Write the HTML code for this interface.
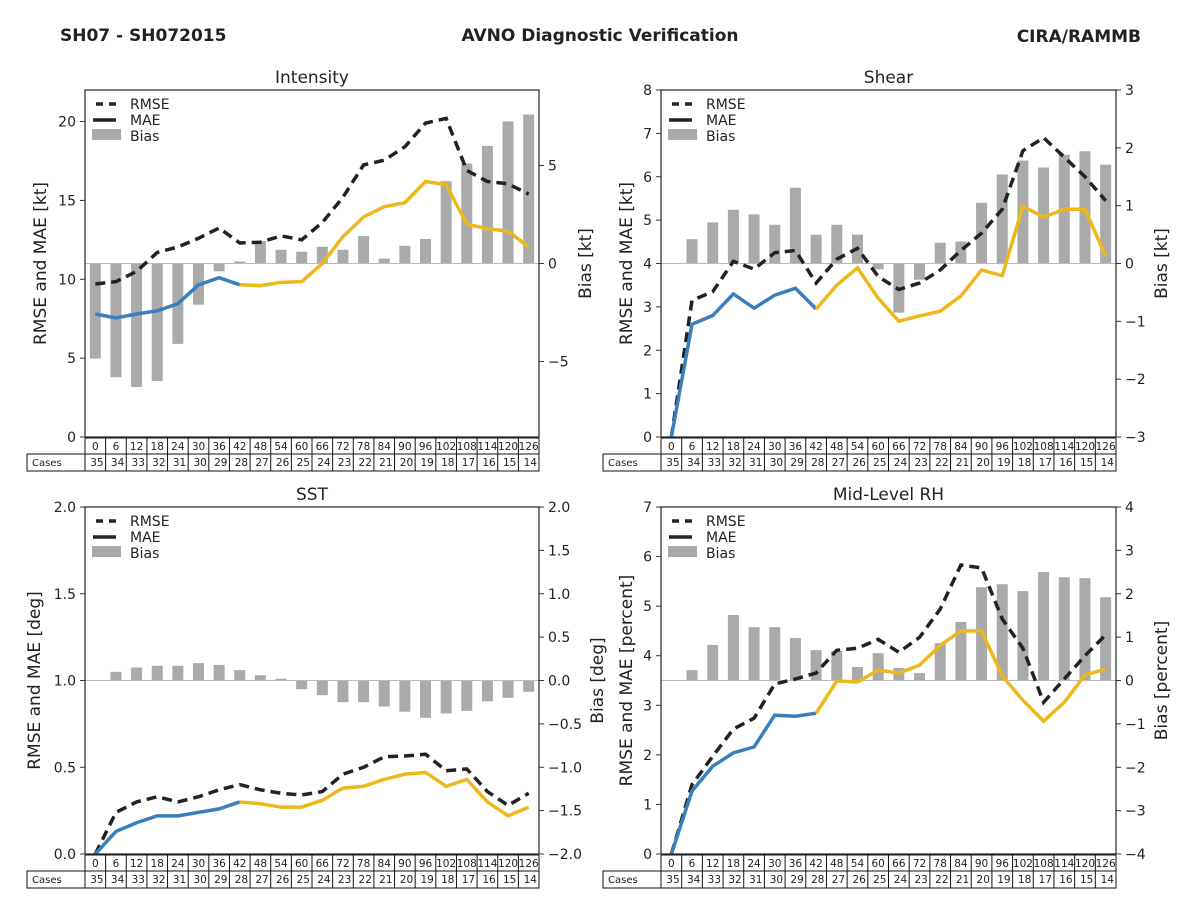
<!DOCTYPE html>
<html><head><meta charset="utf-8"><style>
body{margin:0;background:#fff}
svg{display:block;font-family:"DejaVu Sans","Liberation Sans",sans-serif}
</style></head><body>
<svg id="fig" width="1200" height="900" viewBox="0 0 1200 900" xmlns="http://www.w3.org/2000/svg">
<text x="60" y="41" font-size="17" font-weight="bold" fill="#222">SH07 - SH072015</text>
<text x="600" y="41" font-size="17" font-weight="bold" fill="#222" text-anchor="middle">AVNO Diagnostic Verification</text>
<text x="1141" y="42" font-size="17" font-weight="bold" fill="#222" text-anchor="end">CIRA/RAMMB</text>
</svg>
<script>
const hours=[0,6,12,18,24,30,36,42,48,54,60,66,72,78,84,90,96,102,108,114,120,126];
const cases=[35,34,33,32,31,30,29,28,27,26,25,24,23,22,21,20,19,18,17,16,15,14];
const intRmse=[9.7,9.85,10.5,11.7,12.05,12.6,13.25,12.3,12.35,12.75,12.5,13.6,15.2,17.25,17.55,18.4,19.9,20.2,16.9,16.2,16.05,15.4];
const intMae=[7.8,7.55,7.8,8.0,8.45,9.65,10.1,9.65,9.6,9.8,9.85,11.0,12.7,13.95,14.6,14.85,16.2,16.0,13.5,13.2,13.05,12.05];
const intBias=[-4.85,-5.8,-6.3,-6.0,-4.1,-2.1,-0.4,0.1,1.15,0.7,0.6,0.85,0.7,1.4,0.25,0.9,1.25,4.2,5.1,6.0,7.25,7.6];
const shrRmse=[0,3.15,3.35,4.05,3.87,4.25,4.3,3.55,4.1,4.35,3.7,3.4,3.55,3.85,4.3,4.7,5.25,6.6,6.9,6.45,6.0,5.45];
const shrMae=[0,2.6,2.8,3.3,2.97,3.27,3.43,2.95,3.5,3.9,3.2,2.67,2.79,2.9,3.25,3.85,3.72,5.32,5.07,5.25,5.25,4.17];
const shrBias=[0,0.42,0.71,0.93,0.85,0.67,1.31,0.5,0.67,0.5,-0.1,-0.85,-0.28,0.36,0.38,1.05,1.54,1.78,1.66,1.88,1.94,1.71];
const sstRmse=[0,0.24,0.3,0.33,0.3,0.33,0.37,0.4,0.37,0.35,0.34,0.36,0.46,0.5,0.56,0.565,0.575,0.48,0.49,0.36,0.28,0.35];
const sstMae=[0,0.13,0.18,0.22,0.22,0.24,0.26,0.3,0.29,0.27,0.27,0.31,0.38,0.39,0.43,0.46,0.47,0.39,0.43,0.3,0.22,0.27];
const sstBias=[0,0.1,0.15,0.17,0.17,0.2,0.18,0.12,0.06,0.02,-0.1,-0.17,-0.25,-0.25,-0.3,-0.36,-0.43,-0.38,-0.35,-0.24,-0.2,-0.13];
const rhRmse=[0,1.4,1.97,2.52,2.74,3.43,3.53,3.65,4.11,4.15,4.33,4.07,4.37,4.94,5.83,5.77,4.74,4.15,3.06,3.53,4.0,4.42];
const rhMae=[0,1.27,1.77,2.04,2.16,2.8,2.78,2.84,3.49,3.47,3.71,3.65,3.81,4.21,4.5,4.5,3.59,3.1,2.68,3.06,3.61,3.73];
const rhBias=[0,0.24,0.82,1.51,1.23,1.23,0.98,0.7,0.68,0.31,0.63,0.29,0.17,0.86,1.35,2.15,2.22,2.06,2.5,2.38,2.36,1.92];
const intLTicks=[0,5,10,15,20], intRTicks=[-5,0,5];
const shrLTicks=[0,1,2,3,4,5,6,7,8], shrRTicks=[-3,-2,-1,0,1,2,3];
const sstLTicks=[0,0.5,1,1.5,2], sstRTicks=[-2,-1.5,-1,-0.5,0,0.5,1,1.5,2];
const rhLTicks=[0,1,2,3,4,5,6,7], rhRTicks=[-4,-3,-2,-1,0,1,2,3,4];

const NS="http://www.w3.org/2000/svg";
const svg=document.getElementById('fig');
function mk(tag,attrs,parent,txt){const e=document.createElementNS(NS,tag);for(const k in attrs)e.setAttribute(k,attrs[k]);if(txt!==undefined)e.textContent=txt;(parent||svg).appendChild(e);return e;}

function panel(o){
  const g=mk('g',{});
  
  
  const L=o.x0,R=o.x1,T=o.y0,B=o.y1,W=R-L,n=hours.length,cw=W/n;
  const xs=i=>L+cw*(i+0.5);
  const yl=v=>B-(v-o.lmin)/(o.lmax-o.lmin)*(B-T);
  const yr=v=>B-(v-o.rmin)/(o.rmax-o.rmin)*(B-T);
  const y0=yr(0);
  o.bias.forEach((v,i)=>{
    const b=mk('rect',{x:xs(i)-5.5,y:Math.min(y0,yr(v)),width:11,height:Math.abs(yr(v)-y0),fill:'#aaaaaa'},g);
    
    
  });
  const zl=mk('line',{x1:L,x2:R,y1:y0,y2:y0,stroke:'#bbb','stroke-width':1},g);
  
  
  const rp=o.rmse.map((v,i)=>xs(i)+','+yl(v)).join(' ');
  const rl=mk('polyline',{points:rp,fill:'none',stroke:'#222','stroke-width':3.5,'stroke-dasharray':'10,6'},g);
  
  
  const mb=o.mae.slice(0,8).map((v,i)=>xs(i)+','+yl(v)).join(' ');
  const my=o.mae.slice(7).map((v,i)=>xs(i+7)+','+yl(v)).join(' ');
  const l1=mk('polyline',{points:mb,fill:'none',stroke:'#3a7fbd','stroke-width':3.5},g);
  
  
  const l2=mk('polyline',{points:my,fill:'none',stroke:'#ecb81a','stroke-width':3.5},g);
  
  
  const fr=mk('rect',{x:L,y:T,width:W,height:B-T,fill:'none',stroke:'#333','stroke-width':1.3},g);
  
  
  o.lt.forEach(v=>{const y=yl(v);mk('line',{x1:L-5,x2:L,y1:y,y2:y,stroke:'#333'},g);
    const t=mk('text',{x:L-9,y:y+5,'font-size':14,'text-anchor':'end',fill:'#222'},g,v.toFixed(o.ld));
    
    });
  o.rt.forEach(v=>{const y=yr(v);mk('line',{x1:R,x2:R+5,y1:y,y2:y,stroke:'#333'},g);
    const s=(v<0?'\u2212':'')+Math.abs(v).toFixed(o.rd);
    const t=mk('text',{x:R+9,y:y+5,'font-size':14,fill:'#222'},g,s);
    
    });
  const ti=mk('text',{x:(L+R)/2,y:T-7,'font-size':17,'text-anchor':'middle',fill:'#222'},g,o.title);
  
  
  const ly=(T+B)/2;
  const a=mk('text',{x:o.llx,y:ly,'font-size':17,'text-anchor':'middle',fill:'#222',transform:`rotate(-90 ${o.llx} ${ly})`},g,o.ll);
  
  
  const b=mk('text',{x:o.rlx,y:ly,'font-size':17,'text-anchor':'middle',fill:'#222',transform:`rotate(-90 ${o.rlx} ${ly})`},g,o.rl);
  
  
  mk('line',{x1:L+11,x2:L+31,y1:T+14,y2:T+14,stroke:'#222','stroke-width':3.5,'stroke-dasharray':'7,6'},g);
  mk('line',{x1:L+8,x2:L+31,y1:T+30,y2:T+30,stroke:'#222','stroke-width':3.5},g);
  mk('rect',{x:L+7,y:T+39,width:29,height:11,fill:'#aaa'},g);
  [['RMSE',T+19],['MAE',T+35],['Bias',T+51]].forEach(([s,y])=>{
    const t=mk('text',{x:L+45,y:y,'font-size':14,fill:'#222'},g,s);
    
    });
  const r1=B+1,r2=B+17,r3=B+34;
  const tb=mk('g',{},g);
  
  
  mk('rect',{x:L-58,y:r2,width:W+58,height:r3-r2,fill:'none',stroke:'#111'},tb);
  mk('line',{x1:L,x2:R,y1:r1,y2:r1,stroke:'#111'},tb);
  for(let i=0;i<=n;i++){const x=L+cw*i;mk('line',{x1:x,x2:x,y1:r1,y2:r3,stroke:'#111'},tb);}
  mk('text',{x:L-53,y:r2+12,'font-size':10,fill:'#222'},tb,'Cases');
  hours.forEach((h,i)=>{
    mk('text',{x:xs(i),y:r1+12,'font-size':10.5,'text-anchor':'middle',fill:'#222'},tb,String(h));
    mk('text',{x:L+cw*(i+1)-2,y:r2+12,'font-size':10.5,'text-anchor':'end',fill:'#222'},tb,String(cases[i]));
  });
}
panel({name:'intensity',title:'Intensity',x0:85,x1:539,y0:90,y1:437,lmin:0,lmax:22,rmin:-8.85,rmax:8.85,lt:intLTicks,rt:intRTicks,ld:0,rd:0,rmse:intRmse,mae:intMae,bias:intBias,ll:'RMSE and MAE [kt]',rl:'Bias [kt]',llx:46,rlx:591});
panel({name:'shear',title:'Shear',x0:661,x1:1116,y0:90,y1:437,lmin:0,lmax:8,rmin:-3,rmax:3,lt:shrLTicks,rt:shrRTicks,ld:0,rd:0,rmse:shrRmse,mae:shrMae,bias:shrBias,ll:'RMSE and MAE [kt]',rl:'Bias [kt]',llx:632,rlx:1167});
panel({name:'sst',title:'SST',x0:85,x1:539,y0:507,y1:854,lmin:0,lmax:2,rmin:-2,rmax:2,lt:sstLTicks,rt:sstRTicks,ld:1,rd:1,rmse:sstRmse,mae:sstMae,bias:sstBias,ll:'RMSE and MAE [deg]',rl:'Bias [deg]',llx:40,rlx:603});
panel({name:'mid-level-rh',title:'Mid-Level RH',x0:661,x1:1116,y0:507,y1:854,lmin:0,lmax:7,rmin:-4,rmax:4,lt:rhLTicks,rt:rhRTicks,ld:0,rd:0,rmse:rhRmse,mae:rhMae,bias:rhBias,ll:'RMSE and MAE [percent]',rl:'Bias [percent]',llx:632,rlx:1167});
</script>
</body></html>
